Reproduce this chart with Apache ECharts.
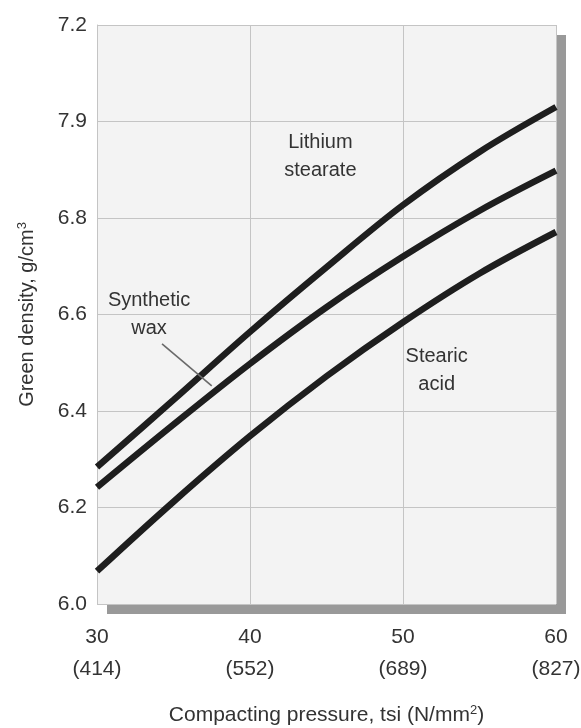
<!DOCTYPE html>
<html>
<head>
<meta charset="utf-8">
<script src="https://cdn.jsdelivr.net/npm/echarts@6/dist/echarts.min.js"></script>
<style>html,body{margin:0;padding:0;background:#fff}#c{width:581px;height:728px}</style>
</head>
<body>
<div id="c"></div>
<script>
var xValues = [30, 35, 40, 45, 50, 55, 60];
var lithiumStearate = [6.284, 6.423, 6.564, 6.698, 6.827, 6.937, 7.03];
var syntheticWax = [6.242, 6.372, 6.498, 6.615, 6.72, 6.815, 6.898];
var stearicAcid = [6.068, 6.212, 6.348, 6.472, 6.584, 6.685, 6.771];
var yTickLabels = ['6.0', '6.2', '6.4', '6.6', '6.8', '7.9', '7.2'];
var xTickLabels = ['30', '40', '50', '60'];
var xTickSubLabels = ['(414)', '(552)', '(689)', '(827)'];
var yMin = 6.0, yMax = 7.2, yStep = 0.2;
var xMin = 30, xMax = 60, xStep = 10;

var annotations = [
  {text: 'Lithium\nstearate', at: [44.6, 6.928]},
  {text: 'Synthetic\nwax', at: [33.4, 6.6]},
  {text: 'Stearic\nacid', at: [52.2, 6.484]}
];
var leader = [[34.25, 6.539], [37.5, 6.452]];

function pairs(ys) { return xValues.map(function (x, i) { return [x, ys[i]]; }); }

var FONT = '"Liberation Sans", Arial, sans-serif';
var TXT = '#333';

var chart = echarts.init(document.getElementById('c'));
function lineSeries(name, ys) {
  return {
    name: name, type: 'line', data: pairs(ys), smooth: 0.35,
    showSymbol: false, symbol: 'none',
    lineStyle: {color: '#1e1e1e', width: 6.5, cap: 'butt'},
    emphasis: {disabled: true}, z: 5
  };
}
chart.setOption({
  animation: false,
  backgroundColor: '#ffffff',
  grid: {
    left: 97, right: 25, top: 25, bottom: 124,
    containLabel: false, outerBoundsMode: 'none',
    show: true, backgroundColor: '#f3f3f3', borderWidth: 0,
    shadowColor: '#999999', shadowOffsetX: 10, shadowOffsetY: 10, shadowBlur: 0
  },
  xAxis: {
    type: 'value', min: xMin, max: xMax, interval: xStep,
    axisLine: {show: false}, axisTick: {show: false},
    splitLine: {show: true, lineStyle: {color: '#c4c4c4', width: 1}},
    axisLabel: {
      margin: 17, color: TXT, fontFamily: FONT, fontSize: 21, lineHeight: 32,
      formatter: function (v) {
        var i = Math.round((v - xMin) / xStep);
        return xTickLabels[i] + '\n' + xTickSubLabels[i];
      }
    },
    name: '{a|Compacting pressure, tsi (N/mm}{s|2}{a|)}',
    nameLocation: 'middle', nameGap: 98,
    nameTextStyle: {
      rich: {
        a: {fontFamily: FONT, fontSize: 21, color: TXT, lineHeight: 26},
        s: {fontFamily: FONT, fontSize: 13, color: TXT, lineHeight: 26, padding: [0, 0, 10, 0]}
      }
    }
  },
  yAxis: {
    type: 'value', min: yMin, max: yMax, interval: yStep,
    axisLine: {show: true, lineStyle: {color: '#c4c4c4', width: 1}},
    axisTick: {show: false},
    splitLine: {show: true, lineStyle: {color: '#c4c4c4', width: 1}},
    axisLabel: {
      margin: 10, color: TXT, fontFamily: FONT, fontSize: 21,
      formatter: function (v) { return yTickLabels[Math.round((v - yMin) / yStep)]; }
    },
    name: '{a|Green density, g/cm}{s|3}',
    nameLocation: 'middle', nameGap: 57, nameRotate: 90,
    nameTextStyle: {
      rich: {
        a: {fontFamily: FONT, fontSize: 20, color: TXT, lineHeight: 26},
        s: {fontFamily: FONT, fontSize: 13, color: TXT, lineHeight: 26, padding: [0, 0, 10, 0]}
      }
    }
  },
  series: [
    lineSeries('Lithium stearate', lithiumStearate),
    lineSeries('Synthetic wax', syntheticWax),
    lineSeries('Stearic acid', stearicAcid)
  ]
});

var g = [];
annotations.forEach(function (a) {
  var p = chart.convertToPixel({gridIndex: 0}, a.at);
  g.push({
    type: 'text', x: p[0], y: p[1], z: 10,
    style: {text: a.text, fill: TXT, font: '20px ' + FONT, align: 'center', verticalAlign: 'middle', lineHeight: 28}
  });
});
var p1 = chart.convertToPixel({gridIndex: 0}, leader[0]);
var p2 = chart.convertToPixel({gridIndex: 0}, leader[1]);
g.push({type: 'line', z: 10, shape: {x1: p1[0], y1: p1[1], x2: p2[0], y2: p2[1]}, style: {stroke: '#6a6a6a', lineWidth: 1.6}});
chart.setOption({graphic: g});
</script>
</body>
</html>
